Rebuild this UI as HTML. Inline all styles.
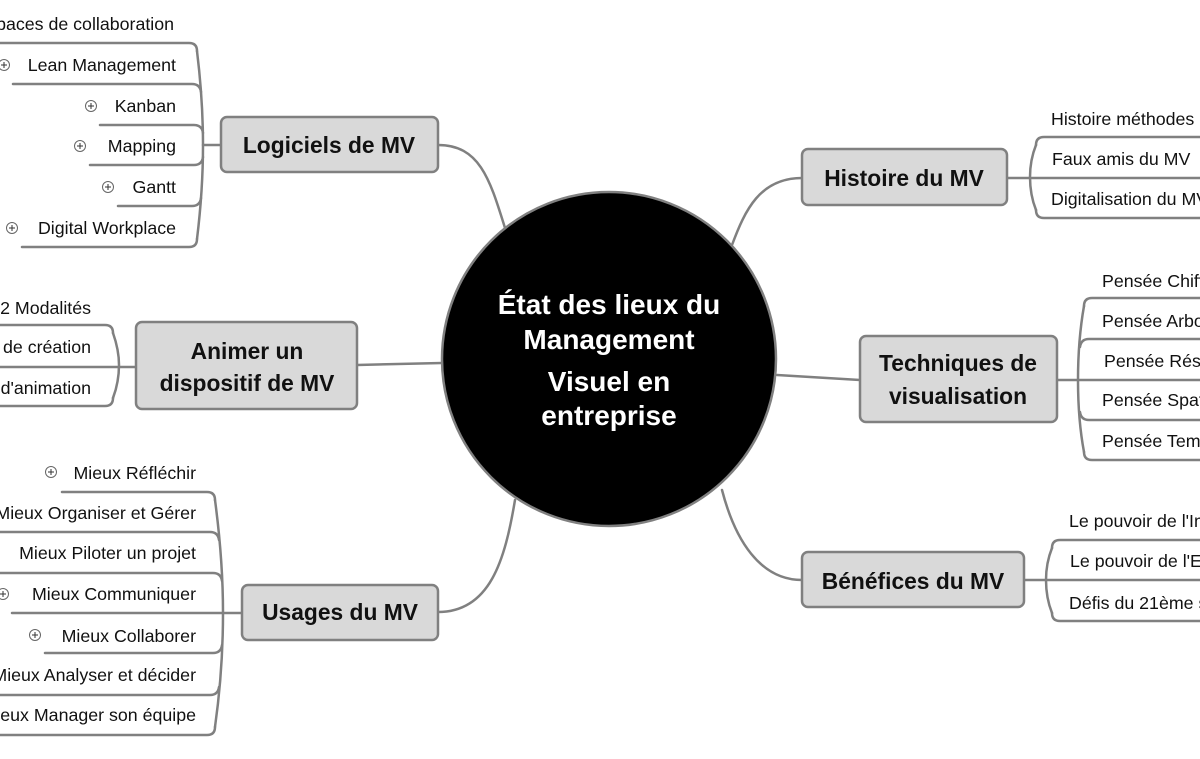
<!DOCTYPE html>
<html><head><meta charset="utf-8"><style>
html,body{margin:0;padding:0;background:#fff;width:1200px;height:759px;overflow:hidden}
svg{display:block}
text{font-family:"Liberation Sans","DejaVu Sans",sans-serif}
.l{font-size:17.8px;fill:#111}
.n{font-size:22.8px;font-weight:bold;fill:#111}
.c{font-size:28px;font-weight:bold;fill:#fff}
</style></head><body>
<svg width="1200" height="759" viewBox="0 0 1200 759" xmlns="http://www.w3.org/2000/svg">
<g fill="none" stroke="#808080" stroke-width="2.5" stroke-linecap="round">
<path d="M438,145 C480,145 490,180 505,228"/>
<path d="M357,365 L442,363"/>
<path d="M438,612 C490,612 505,560 515,500"/>
<path d="M802,178 C760,178 745,210 732,245"/>
<path d="M860,380 L777,375"/>
<path d="M802,580 C760,580 735,540 722,490"/>
<path d="M197,51 Q203,100 203,145 Q203,190 197,239"/>
<path d="M0,43 H189 Q197,43 197,51"/>
<path d="M13,84 H192 Q200,84 201,92"/>
<path d="M100,125 H194 Q202,125 203,133"/>
<path d="M203,145 H221"/>
<path d="M90,165 H194 Q202,165 203,157"/>
<path d="M118,206 H192 Q200,206 201,198"/>
<path d="M22,247 H189 Q197,247 197,239"/>
<path d="M113,333 Q119,350 119,365 Q119,382 113,398"/>
<path d="M0,325 H105 Q113,325 113,333"/>
<path d="M0,367 H136"/>
<path d="M0,406 H105 Q113,406 113,398"/>
<path d="M215,500 Q223,560 223,613 Q223,670 215,727"/>
<path d="M62,492 H207 Q215,492 215,500"/>
<path d="M0,532 H210 Q218,532 219,540"/>
<path d="M0,573 H213 Q221,573 222,581"/>
<path d="M12,613 H242"/>
<path d="M45,653 H213 Q221,653 222,645"/>
<path d="M0,695 H210 Q218,695 219,687"/>
<path d="M0,735 H207 Q215,735 215,727"/>
<path d="M1036,145 Q1030,160 1030,177 Q1030,195 1036,210"/>
<path d="M1200,137 H1044 Q1036,137 1036,145"/>
<path d="M1007,178 H1200"/>
<path d="M1200,218 H1044 Q1036,218 1036,210"/>
<path d="M1084,306 Q1078,340 1078,380 Q1078,420 1084,452"/>
<path d="M1200,298 H1092 Q1084,298 1084,306"/>
<path d="M1200,339 H1089 Q1081,339 1080,347"/>
<path d="M1057,380 H1200"/>
<path d="M1200,420 H1089 Q1081,420 1080,412"/>
<path d="M1200,460 H1092 Q1084,460 1084,452"/>
<path d="M1052,548 Q1046,563 1046,580 Q1046,598 1052,613"/>
<path d="M1200,540 H1060 Q1052,540 1052,548"/>
<path d="M1024,580 H1200"/>
<path d="M1200,621 H1060 Q1052,621 1052,613"/>
</g>
<g fill="#fff" stroke="#666" stroke-width="1">
<circle cx="4" cy="65" r="5.5"/><circle cx="91" cy="106" r="5.5"/><circle cx="80" cy="146" r="5.5"/>
<circle cx="108" cy="187" r="5.5"/><circle cx="12" cy="228" r="5.5"/>
<circle cx="51" cy="472" r="5.5"/><circle cx="3" cy="594" r="5.5"/><circle cx="35" cy="635" r="5.5"/>
</g>
<g stroke="#333" stroke-width="1">
<path d="M1,65h6M4,62v6"/><path d="M88,106h6M91,103v6"/><path d="M77,146h6M80,143v6"/>
<path d="M105,187h6M108,184v6"/><path d="M9,228h6M12,225v6"/>
<path d="M48,472h6M51,469v6"/><path d="M0,594h6M3,591v6"/><path d="M32,635h6M35,632v6"/>
</g>
<g fill="#d9d9d9" stroke="#808080" stroke-width="2.5">
<rect x="221" y="117" width="217" height="55" rx="6"/>
<rect x="136" y="322" width="221" height="87" rx="6"/>
<rect x="242" y="585" width="196" height="55" rx="6"/>
<rect x="802" y="149" width="205" height="56" rx="6"/>
<rect x="860" y="336" width="197" height="86" rx="6"/>
<rect x="802" y="552" width="222" height="55" rx="6"/>
</g>
<circle cx="609" cy="359" r="167" fill="#000" stroke="#808080" stroke-width="2.5"/>
<g text-anchor="middle">
<text class="c" x="609" y="314">État des lieux du</text>
<text class="c" x="609" y="349">Management</text>
<text class="c" x="609" y="391">Visuel en</text>
<text class="c" x="609" y="425">entreprise</text>
<text class="n" x="329" y="153">Logiciels de MV</text>
<text class="n" x="247" y="359">Animer un</text>
<text class="n" x="247" y="391">dispositif de MV</text>
<text class="n" x="340" y="620">Usages du MV</text>
<text class="n" x="904" y="186">Histoire du MV</text>
<text class="n" x="958" y="371">Techniques de</text>
<text class="n" x="958" y="404">visualisation</text>
<text class="n" x="913" y="589">Bénéfices du MV</text>
</g>
<g text-anchor="end">
<text class="l" x="174" y="30">Espaces de collaboration</text>
<text class="l" x="176" y="71">Lean Management</text>
<text class="l" x="176" y="112">Kanban</text>
<text class="l" x="176" y="152">Mapping</text>
<text class="l" x="176" y="193">Gantt</text>
<text class="l" x="176" y="234">Digital Workplace</text>
<text class="l" x="91" y="314">2 Modalités</text>
<text class="l" x="91" y="353">de création</text>
<text class="l" x="91" y="394">d'animation</text>
<text class="l" x="196" y="479">Mieux Réfléchir</text>
<text class="l" x="196" y="519">Mieux Organiser et Gérer</text>
<text class="l" x="196" y="559">Mieux Piloter un projet</text>
<text class="l" x="196" y="600">Mieux Communiquer</text>
<text class="l" x="196" y="642">Mieux Collaborer</text>
<text class="l" x="196" y="681">Mieux Analyser et décider</text>
<text class="l" x="196" y="721">Mieux Manager son équipe</text>
</g>
<g>
<text class="l" x="1051" y="125">Histoire méthodes MV</text>
<text class="l" x="1052" y="165">Faux amis du MV</text>
<text class="l" x="1051" y="205">Digitalisation du MV</text>
<text class="l" x="1102" y="287">Pensée Chiffrée</text>
<text class="l" x="1102" y="327">Pensée Arborescente</text>
<text class="l" x="1104" y="367">Pensée Réseau</text>
<text class="l" x="1102" y="406">Pensée Spatiale</text>
<text class="l" x="1102" y="447">Pensée Temporelle</text>
<text class="l" x="1069" y="527">Le pouvoir de l'Image</text>
<text class="l" x="1070" y="567">Le pouvoir de l'Engagement</text>
<text class="l" x="1069" y="609">Défis du 21ème siècle</text>
</g>
</svg>
</body></html>
